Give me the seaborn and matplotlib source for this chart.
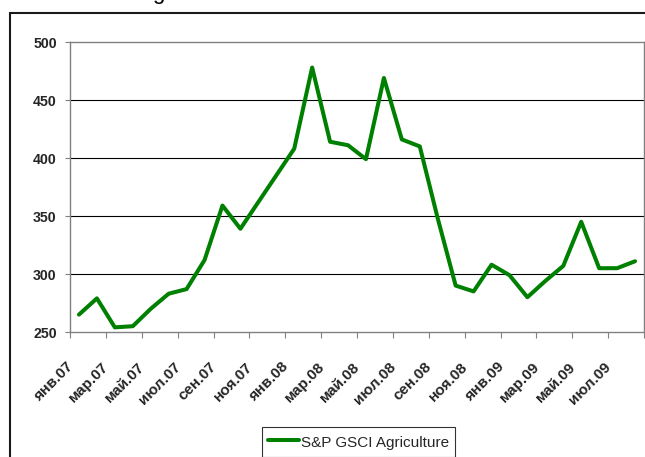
import matplotlib
matplotlib.use("Agg")
import matplotlib.pyplot as plt
import matplotlib.transforms as mtrans
from matplotlib.patches import Rectangle
import seaborn as sns
import pandas as pd
import numpy as np

# ---- data ----
months = ["янв.07", "фев.07", "мар.07", "апр.07", "май.07", "июн.07", "июл.07", "авг.07",
          "сен.07", "окт.07", "ноя.07", "дек.07", "янв.08", "фев.08", "мар.08", "апр.08",
          "май.08", "июн.08", "июл.08", "авг.08", "сен.08", "окт.08", "ноя.08", "дек.08",
          "янв.09", "фев.09", "мар.09", "апр.09", "май.09", "июн.09", "июл.09", "авг.09"]
values = [265, 279, 254, 255, 270, 283, 287, 312, 359, 339, 362, 385, 408, 478, 414, 411,
          399, 469, 416, 410, 348, 290, 285, 308, 299, 280, 294, 307, 345, 305, 305, 311]
series_name = "S&P GSCI Agriculture"
y_ticks = [250, 300, 350, 400, 450, 500]

df = pd.DataFrame({"pos": np.arange(len(months)), "month": months, "value": values})

sns.set_theme(style="white")
plt.rcParams["font.family"] = ["Liberation Sans", "DejaVu Sans"]

W, H = 645, 457
fig = plt.figure(figsize=(W / 100, H / 100), dpi=100)
ax = fig.add_axes([70 / W, 1 - 332 / H, (644 - 70) / W, (332 - 42) / H])

sns.lineplot(data=df, x="pos", y="value", color="#008000", linewidth=2.9,
             label=series_name, ax=ax, sort=False)

ax.set_xlim(-0.5, len(months) - 0.5)
ax.set_ylim(y_ticks[0], y_ticks[-1])
ax.set_xlabel("")
ax.set_ylabel("")

# grid lines
for v in y_ticks[1:-1]:
    ax.axhline(v, color="black", linewidth=0.8, zorder=0)

for s in ax.spines.values():
    s.set_color("#808080")
    s.set_linewidth(1.0)

ax.set_yticks(y_ticks)
ax.set_yticklabels([str(v) for v in y_ticks], fontsize=10.2, fontweight="bold")
ax.tick_params(axis="y", which="major", direction="out", length=3.5, width=0.8,
               color="#808080", pad=6.0, left=True)

# x ticks: labels every 2 months, tick marks at category boundaries
label_pos = list(range(0, len(months), 2))
ax.set_xticks(label_pos)
ax.set_xticklabels([months[i] for i in label_pos], fontsize=11, fontweight="bold",
                   rotation=45, ha="right", va="center", rotation_mode="anchor")
ax.tick_params(axis="x", which="major", length=0, pad=23.5, bottom=True)
ax.set_xticks(np.arange(-0.5, len(months), 2), minor=True)
ax.tick_params(axis="x", which="minor", direction="out", length=4, width=0.8,
               color="#808080", bottom=True)
off = mtrans.ScaledTranslation(-8 / 100, 0, fig.dpi_scale_trans)
for lab in ax.get_xticklabels():
    lab.set_transform(lab.get_transform() + off)

# legend
leg = ax.legend(loc="upper left", bbox_to_anchor=(262 / W, 1 - 427 / H),
                bbox_transform=fig.transFigure, frameon=True, fancybox=False,
                edgecolor="black", fontsize=11, borderpad=0.4, handlelength=2.0,
                handletextpad=0.15, handleheight=1.4, borderaxespad=0)
leg.get_frame().set_linewidth(0.8)
for h in leg.get_lines():
    h.set_linewidth(2.9)

# outer frame
fig.add_artist(Rectangle((10 / W, -0.1), 1.2, (1 - 13 / H) + 0.1, transform=fig.transFigure,
                         fill=False, edgecolor="#1a1a1a", linewidth=1.5, clip_on=False))
# cut-off heading text above the frame (only its descender is visible in the reference)
fig.text(152 / W, 1 + 1 / H, "g", fontsize=16, va="baseline", ha="left", color="black")

fig.savefig("out.png", dpi=100)
